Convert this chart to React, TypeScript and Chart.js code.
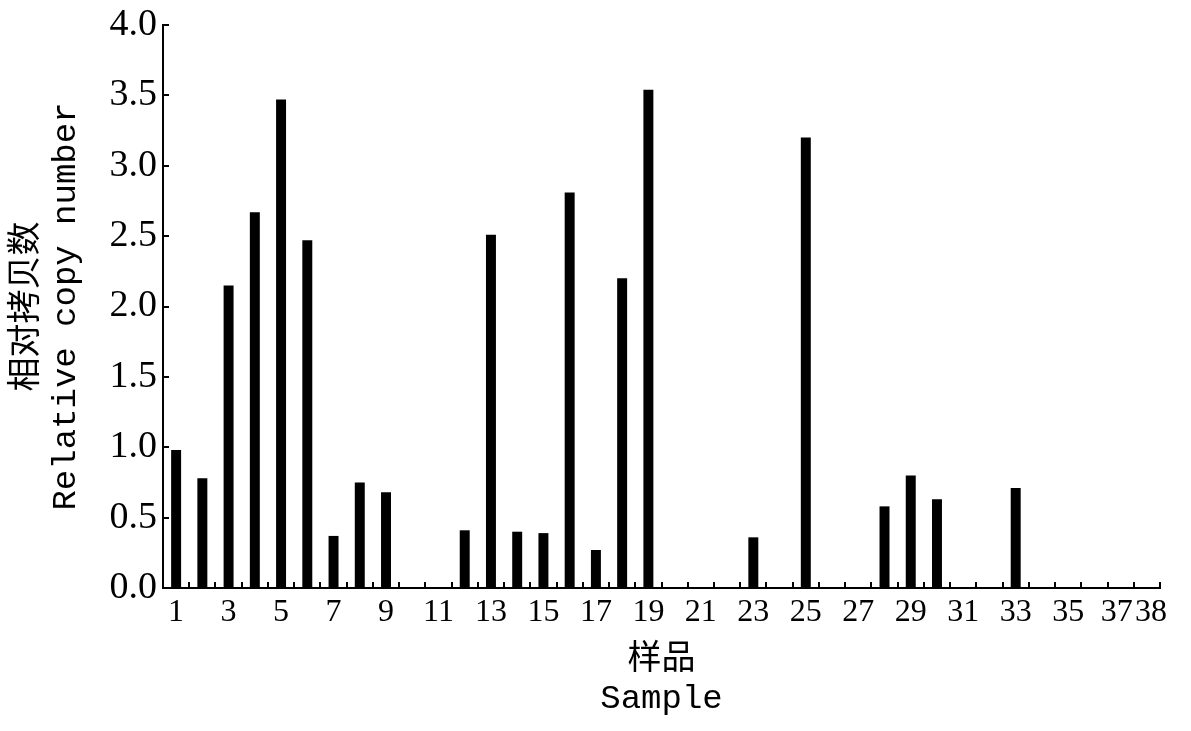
import React, { useEffect, useRef } from 'react';
import { Chart, registerables } from 'chart.js';

Chart.register(...registerables);

const samples = ['1', '2', '3', '4', '5', '6', '7', '8', '9', '10', '11', '12', '13', '14', '15', '16', '17', '18', '19', '20', '21', '22', '23', '24', '25', '26', '27', '28', '29', '30', '31', '32', '33', '34', '35', '36', '37', '38'];
const copyNumber = [0.98, 0.78, 2.15, 2.67, 3.47, 2.47, 0.37, 0.75, 0.68, 0, 0, 0.41, 2.51, 0.40, 0.39, 2.81, 0.27, 2.20, 3.54, 0, 0, 0, 0.36, 0, 3.20, 0, 0, 0.58, 0.80, 0.63, 0, 0, 0.71, 0, 0, 0, 0, 0];
const yTitle = ['相对拷贝数', 'Relative copy number'];
const xTitle = ['样品', 'Sample'];

const TITLE_FONT = "'Liberation Mono', 'Noto Sans CJK SC', monospace";
const TICK_FONT = "'Liberation Serif', 'Noto Sans CJK SC', serif";

const innerTicks = {
  id: 'innerTicks',
  afterDraw(chart: any) {
    const { ctx } = chart;
    const x = chart.scales.x;
    const y = chart.scales.y;
    const len = 6;
    ctx.save();
    ctx.strokeStyle = '#000';
    ctx.lineWidth = 2;
    ctx.beginPath();
    const n = x.getLabels().length;
    const half = (x.getPixelForValue(1) - x.getPixelForValue(0)) / 2;
    for (let i = 0; i < n; i++) {
      const px = Math.round(x.getPixelForValue(i) + half);
      ctx.moveTo(px, x.top);
      ctx.lineTo(px, x.top - len);
    }
    y.ticks.forEach((t: any) => {
      const py = Math.round(y.getPixelForValue(t.value));
      ctx.moveTo(y.right, py);
      ctx.lineTo(y.right + len, py);
    });
    ctx.stroke();
    ctx.restore();
  },
};

export default function App() {
  const ref = useRef<HTMLCanvasElement | null>(null);
  useEffect(() => {
    if (!ref.current) return;
    const chart = new Chart(ref.current, {
      type: 'bar',
      data: {
        labels: samples,
        datasets: [
          {
            data: copyNumber,
            backgroundColor: '#000',
            borderWidth: 0,
            categoryPercentage: 1,
            barPercentage: 0.38,
          },
        ],
      },
      options: {
        animation: false,
        responsive: true,
        maintainAspectRatio: false,
        layout: { padding: { top: 25, right: 31, left: 0, bottom: 0 } },
        plugins: { legend: { display: false }, tooltip: { enabled: false } },
        scales: {
          x: {
            type: 'category',
            offset: true,
            grid: { display: false, drawTicks: false },
            border: { display: true, color: '#000', width: 2 },
            ticks: {
              color: '#000',
              autoSkip: false,
              maxRotation: 0,
              minRotation: 0,
              padding: 5,
              font: { family: TICK_FONT, size: 32 },
              callback: (_v: any, i: number) => {
                if (i === 36) return samples[i] + ' ';
                if (i === 37) return ' ' + samples[i];
                return i % 2 === 0 ? samples[i] : '';
              },
            },
            title: {
              display: true,
              text: xTitle,
              color: '#000',
              font: { family: TITLE_FONT, size: 34, lineHeight: 1.13 },
              padding: { top: 0, bottom: 13 },
            },
            afterFit: (s: any) => {
              s.height = 143;
            },
          },
          y: {
            min: 0,
            max: 4,
            grid: { display: false, drawTicks: false },
            border: { display: true, color: '#000', width: 2 },
            ticks: {
              stepSize: 0.5,
              color: '#000',
              padding: 6,
              font: { family: TICK_FONT, size: 38, lineHeight: 1 },
              callback: (v: any) => Number(v).toFixed(1),
            },
            title: {
              display: true,
              text: yTitle,
              color: '#000',
              font: { family: TITLE_FONT, size: 34, lineHeight: 1.13 },
              padding: { top: 8, bottom: 0 },
            },
            afterFit: (s: any) => {
              s.width = 163;
            },
          },
        },
      },
      plugins: [innerTicks],
    });
    return () => chart.destroy();
  }, []);
  return (
    <div style={{ position: 'fixed', left: 0, top: 0, width: 1191, height: 731, background: '#fff' }}>
      <canvas ref={ref} />
    </div>
  );
}
